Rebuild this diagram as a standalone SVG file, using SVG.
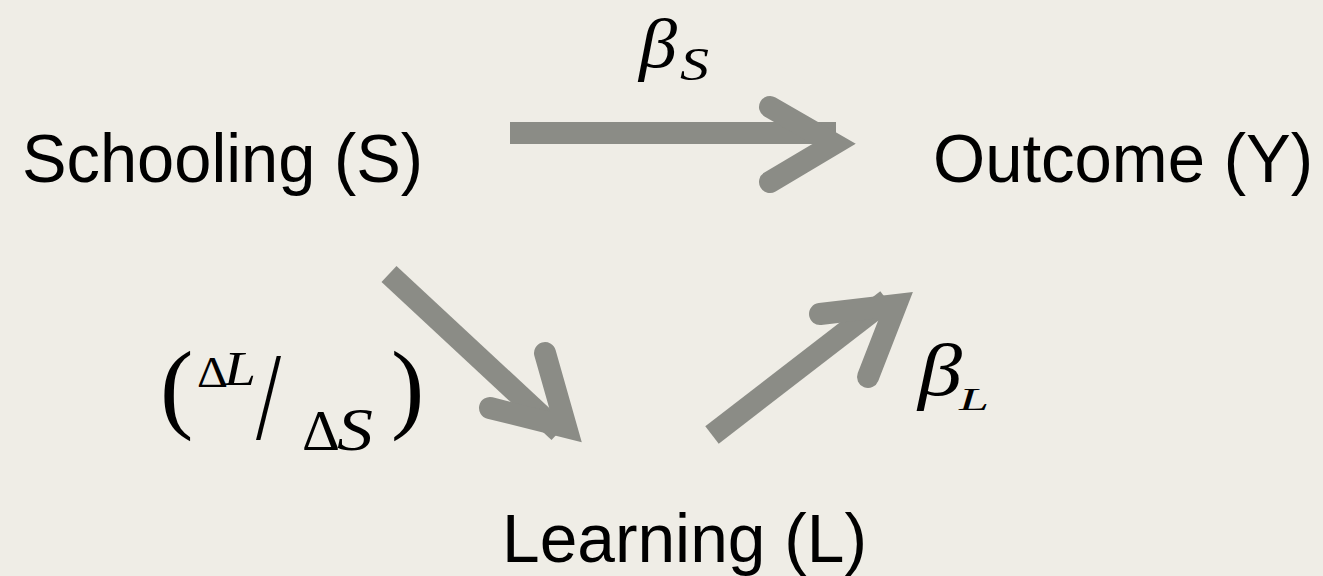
<svg xmlns="http://www.w3.org/2000/svg" width="1323" height="576" viewBox="0 0 1323 576">
  <style>
    .node { font-family: "Liberation Sans", Arial, sans-serif; font-size: 68px; fill: #000; }
    .math { font-family: "Liberation Serif", "Times New Roman", serif; fill: #000; }
    .it { font-style: italic; }
    .shaft { stroke: #8B8C86; stroke-width: 22; fill: none; stroke-linecap: butt; }
    .head { stroke: #8B8C86; stroke-width: 22; fill: none; stroke-linecap: round; stroke-linejoin: miter; stroke-miterlimit: 6; }
  </style>
  <rect x="0" y="0" width="1323" height="576" fill="#EFEDE6"/>

  <g id="connectors">
    <g id="edge-S-Y">
      <line class="shaft" x1="510" y1="133" x2="836" y2="133"/>
      <polyline class="head" points="770,107 834,144 770,182"/>
    </g>
    <g id="edge-S-L">
      <line class="shaft" x1="389" y1="274" x2="559" y2="432"/>
      <polyline class="head" points="545,353 566,427 490,408"/>
    </g>
    <g id="edge-L-Y">
      <line class="shaft" x1="712" y1="435" x2="887" y2="300"/>
      <polyline class="head" points="820,314 896,305 868,377"/>
    </g>
  </g>

  <g id="node-schooling">
    <text class="node" x="22" y="182" textLength="401" lengthAdjust="spacingAndGlyphs">Schooling (S)</text>
  </g>
  <g id="node-outcome">
    <text class="node" x="933" y="182" textLength="380" lengthAdjust="spacingAndGlyphs">Outcome (Y)</text>
  </g>
  <g id="node-learning">
    <text class="node" x="502" y="562" textLength="365" lengthAdjust="spacingAndGlyphs">Learning (L)</text>
  </g>

  <g id="label-beta-s">
    <text class="math it" x="639" y="67" font-size="70" textLength="38" lengthAdjust="spacingAndGlyphs">β</text>
    <text class="math it" x="680" y="80" font-size="46" textLength="29" lengthAdjust="spacingAndGlyphs">S</text>
  </g>
  <g id="label-beta-l">
    <text class="math it" x="918" y="395" font-size="74" textLength="44" lengthAdjust="spacingAndGlyphs">β</text>
    <text class="math it" x="959" y="410" font-size="32" textLength="30" lengthAdjust="spacingAndGlyphs">L</text>
  </g>
  <g id="label-dl-ds">
    <text class="math" x="160" y="420" font-size="100">(</text>
    <text class="math" x="197" y="387" font-size="45" textLength="31" lengthAdjust="spacingAndGlyphs">Δ</text>
    <text class="math it" x="224" y="385" font-size="48" textLength="32" lengthAdjust="spacingAndGlyphs">L</text>
    <text class="math" transform="translate(256,439) scale(0.72,1)" font-size="125">/</text>
    <text class="math" x="302" y="450" font-size="58" textLength="38" lengthAdjust="spacingAndGlyphs">Δ</text>
    <text class="math it" x="337" y="450" font-size="62" textLength="36" lengthAdjust="spacingAndGlyphs">S</text>
    <text class="math" x="391" y="420" font-size="100">)</text>
  </g>
</svg>
